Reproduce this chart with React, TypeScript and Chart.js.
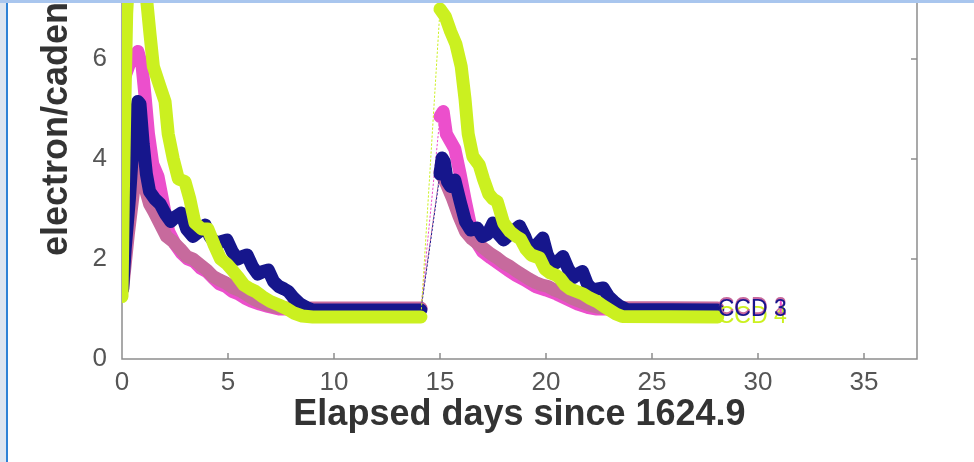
import React, { useEffect, useRef } from "react";
import { Chart, registerables } from "chart.js";

Chart.register(...registerables);

type Pt = [number, number];

// Axis ticks and titles
const xTickValues = [0, 5, 10, 15, 20, 25, 30, 35];
const yTickValues = [0, 2, 4, 6, 8, 10];
const xTitle = "Elapsed days since 1624.9";
const yTitle = "electron/cadence";

// Last day of the first pass; the jump to the second pass is drawn dotted.
const passEnd = 14.1;

// [elapsed day, electron/cadence]
const magentaTrace: Pt[] = [
  [0.03, 1.4], [0, 3.9], [0.02, 5.5], [0.35, 5.9], [0.75, 6.15], [0.95, 5.85],
  [1.1, 5.2], [1.25, 4.5], [1.45, 3.9], [1.7, 3.65], [1.95, 3.1], [2.2, 2.55],
  [2.5, 2.3], [2.8, 2.12], [3.1, 2.0], [3.4, 1.95], [3.7, 1.82], [4.0, 1.75],
  [4.3, 1.62], [4.6, 1.5], [4.9, 1.45], [5.2, 1.35], [5.5, 1.3], [5.8, 1.22],
  [6.1, 1.16], [6.5, 1.1], [6.9, 1.05], [7.4, 1.0], [14.1, 1.0],
  [15.0, 4.85], [15.15, 4.95], [15.3, 4.5], [15.5, 4.35], [15.7, 4.2], [15.95, 3.7],
  [16.2, 3.15], [16.45, 2.65], [16.7, 2.35], [17.0, 2.15], [17.4, 2.02], [17.8, 1.9],
  [18.2, 1.78], [18.6, 1.67], [19.0, 1.58], [19.5, 1.45], [20.0, 1.38], [20.5, 1.3],
  [21.0, 1.2], [21.5, 1.1], [22.0, 1.03], [22.4, 1.0], [28.1, 1.0],
];

const mauveTrace: Pt[] = [
  [0.03, 1.4], [0.3, 2.5], [0.7, 3.9], [0.9, 3.9], [1.1, 3.4], [1.3, 3.1], [1.5, 2.95],
  [1.8, 2.7], [2.1, 2.45], [2.4, 2.35], [2.75, 2.2], [3.05, 2.05], [3.35, 2.0],
  [3.7, 1.88], [4.0, 1.78], [4.3, 1.65], [4.6, 1.58], [4.9, 1.52], [5.25, 1.42],
  [5.6, 1.36], [5.9, 1.28], [6.2, 1.2], [6.5, 1.14], [6.85, 1.08], [7.2, 1.04],
  [7.6, 1.02], [14.1, 1.02],
  [15.0, 3.75], [15.3, 3.5], [15.6, 3.2], [15.9, 2.85], [16.2, 2.55], [16.5, 2.4],
  [16.8, 2.3], [17.1, 2.2], [17.4, 2.1], [17.7, 2.02], [18.0, 1.92], [18.3, 1.85],
  [18.6, 1.76], [18.9, 1.68], [19.2, 1.6], [19.5, 1.53], [19.8, 1.48], [20.1, 1.45],
  [20.4, 1.38], [20.7, 1.33], [21.0, 1.27], [21.3, 1.2], [21.6, 1.15], [21.9, 1.1],
  [22.2, 1.06], [22.5, 1.03], [28.1, 1.02],
];

const navyTrace: Pt[] = [
  [0.03, 1.4], [0.15, 2.2], [0.35, 3.2], [0.55, 4.5], [0.75, 5.15], [0.85, 5.1],
  [1.0, 4.3], [1.15, 3.7], [1.3, 3.35], [1.55, 3.2], [1.8, 3.1], [2.05, 2.9],
  [2.3, 2.75], [2.55, 2.85], [2.8, 2.92], [3.05, 2.6], [3.35, 2.45], [3.65, 2.55],
  [3.92, 2.68], [4.15, 2.45], [4.45, 2.3], [4.7, 2.35], [4.95, 2.38], [5.2, 2.15],
  [5.45, 2.0], [5.7, 2.05], [5.9, 2.08], [6.15, 1.85], [6.4, 1.7], [6.65, 1.75],
  [6.9, 1.78], [7.15, 1.55], [7.4, 1.45], [7.65, 1.4], [7.85, 1.35], [8.1, 1.22],
  [8.4, 1.1], [8.7, 1.03], [9.0, 0.98], [14.1, 0.98],
  [15.0, 3.7], [15.1, 4.02], [15.2, 3.95], [15.35, 3.55], [15.5, 3.45], [15.7, 3.58],
  [15.95, 3.15], [16.2, 2.75], [16.45, 2.58], [16.75, 2.62], [17.0, 2.45], [17.25, 2.5],
  [17.5, 2.72], [17.75, 2.5], [18.0, 2.38], [18.3, 2.5], [18.75, 2.66], [19.0, 2.45],
  [19.25, 2.18], [19.55, 2.28], [19.85, 2.42], [20.05, 2.1], [20.3, 1.88], [20.55, 1.95],
  [20.8, 2.05], [21.05, 1.8], [21.3, 1.63], [21.5, 1.7], [21.72, 1.75], [21.95, 1.5],
  [22.2, 1.38], [22.45, 1.4], [22.7, 1.42], [22.95, 1.25], [23.2, 1.15], [23.5, 1.05],
  [23.8, 0.99], [28.1, 0.98],
];

const limeTrace: Pt[] = [
  [0, 1.25], [0.06, 3.2], [0.14, 5.2], [0.22, 6.9], [0.4, 8.3], [0.7, 8.8], [1.0, 8.0],
  [1.16, 7.2], [1.32, 6.5], [1.48, 5.85], [1.79, 5.45], [2.03, 5.15], [2.18, 4.5],
  [2.42, 4.0], [2.66, 3.6], [2.97, 3.55], [3.2, 3.2], [3.44, 2.72], [3.76, 2.6],
  [4.05, 2.6], [4.35, 2.28], [4.65, 2.0], [4.95, 1.9], [5.2, 1.78], [5.45, 1.65],
  [5.75, 1.48], [6.05, 1.4], [6.3, 1.35], [6.65, 1.24], [7.0, 1.15], [7.4, 1.08],
  [7.8, 1.0], [8.1, 0.92], [8.5, 0.86], [9.0, 0.84], [14.1, 0.84],
  [15.0, 7.0], [15.25, 6.85], [15.5, 6.55], [15.75, 6.3], [16.0, 5.85], [16.18, 5.2],
  [16.33, 4.5], [16.55, 4.05], [16.85, 3.88], [17.05, 3.6], [17.3, 3.3], [17.5, 3.2],
  [17.7, 3.15], [18.0, 2.72], [18.3, 2.55], [18.6, 2.45], [18.8, 2.4], [19.05, 2.2],
  [19.3, 2.08], [19.5, 2.05], [19.7, 2.02], [19.95, 1.8], [20.2, 1.72], [20.45, 1.68],
  [20.65, 1.62], [20.9, 1.48], [21.15, 1.4], [21.45, 1.35], [21.75, 1.3], [22.05, 1.22],
  [22.4, 1.15], [22.7, 1.06], [23.0, 0.98], [23.3, 0.9], [23.6, 0.85], [28.1, 0.84],
];

const series = [
  { name: "CCD 1", color: "#ec4fcc", trace: magentaTrace, order: 3 },
  { name: "CCD 2", color: "#c76a9d", trace: mauveTrace, order: 2 },
  { name: "CCD 3", color: "#16168c", trace: navyTrace, order: 1 },
  { name: "CCD 4", color: "#cbf020", trace: limeTrace, order: 0 },
];

// end-of-trace labels, painted bottom to top
const labelPaintOrder = [3, 0, 1, 2];

const fontFamily = '"Liberation Sans", Arial, sans-serif';

const isPassGap = (ctx: any) =>
  ctx.p0.parsed.x <= passEnd && ctx.p1.parsed.x > passEnd;

const axisFrame = {
  id: "axisFrame",
  beforeDatasetsDraw(chart: any) {
    const { ctx, chartArea, scales } = chart;
    const { left, right, top, bottom } = chartArea;
    ctx.save();
    ctx.strokeStyle = "#8d8d8d";
    ctx.lineWidth = 1.5;
    ctx.beginPath();
    ctx.moveTo(left, top);
    ctx.lineTo(left, bottom);
    ctx.lineTo(right, bottom);
    ctx.lineTo(right, top);
    const tickLen = 6;
    scales.x.ticks.forEach((t: any) => {
      const px = scales.x.getPixelForValue(t.value);
      ctx.moveTo(px, bottom);
      ctx.lineTo(px, bottom - tickLen);
    });
    scales.y.ticks.forEach((t: any) => {
      const py = scales.y.getPixelForValue(t.value);
      ctx.moveTo(left, py);
      ctx.lineTo(left + tickLen, py);
      ctx.moveTo(right, py);
      ctx.lineTo(right - tickLen, py);
    });
    ctx.stroke();
    ctx.restore();
  },
};

const endLabels = {
  id: "endLabels",
  afterDatasetsDraw(chart: any) {
    const { ctx } = chart;
    ctx.save();
    ctx.font = "23px " + fontFamily;
    ctx.textAlign = "left";
    ctx.textBaseline = "middle";
    labelPaintOrder.forEach((i) => {
      const meta = chart.getDatasetMeta(i);
      const last = meta.data[meta.data.length - 1];
      const ds = chart.data.datasets[i];
      ctx.fillStyle = ds.borderColor;
      ctx.fillText(ds.label, last.x, last.y);
    });
    ctx.restore();
  },
};

export default function App() {
  const canvasRef = useRef<HTMLCanvasElement | null>(null);

  useEffect(() => {
    if (!canvasRef.current) return;
    const chart = new Chart(canvasRef.current, {
      type: "line",
      data: {
        datasets: series.map((s) => ({
          label: s.name,
          data: s.trace.map(([x, y]) => ({ x, y })),
          borderColor: s.color,
          backgroundColor: s.color,
          borderWidth: 13,
          borderCapStyle: "round",
          borderJoinStyle: "round",
          pointRadius: 0,
          tension: 0,
          order: s.order,
          segment: {
            borderWidth: (ctx: any) => (isPassGap(ctx) ? 1 : undefined),
            borderDash: (ctx: any) => (isPassGap(ctx) ? [1.5, 2.5] : undefined),
          },
        })),
      },
      options: {
        animation: false,
        responsive: false,
        devicePixelRatio: 1,
        layout: { padding: { top: 59, right: 57, left: 0, bottom: 0 } },
        plugins: {
          legend: { display: false },
          tooltip: { enabled: false },
        },
        scales: {
          x: {
            type: "linear",
            min: 0,
            max: 37.5,
            afterBuildTicks: (s: any) => {
              s.ticks = xTickValues.map((v) => ({ value: v }));
            },
            afterFit: (s: any) => {
              s.height = 103;
            },
            grid: { display: false, drawTicks: false },
            border: { display: false },
            ticks: {
              color: "#555",
              font: { size: 26, family: fontFamily },
              padding: 8,
              maxRotation: 0,
            },
            title: {
              display: true,
              text: xTitle,
              color: "#333",
              font: { size: 36, weight: "bold", family: fontFamily },
              padding: { top: 0, bottom: 25 },
            },
          },
          y: {
            type: "linear",
            min: 0,
            max: 10,
            afterBuildTicks: (s: any) => {
              s.ticks = yTickValues.map((v) => ({ value: v }));
            },
            afterFit: (s: any) => {
              s.width = 122;
            },
            grid: { display: false, drawTicks: false },
            border: { display: false },
            ticks: { color: "#555", font: { size: 26, family: fontFamily }, padding: 15 },
            title: {
              display: true,
              text: yTitle,
              color: "#333",
              font: { size: 36, weight: "bold", family: fontFamily },
              padding: { top: 35, bottom: 0 },
            },
          },
        },
      },
      plugins: [axisFrame, endLabels],
    } as any);
    return () => chart.destroy();
  }, []);

  return (
    <div
      style={{
        position: "fixed",
        left: 0,
        top: 0,
        width: 974,
        height: 462,
        overflow: "hidden",
        background: "#ffffff",
      }}
    >
      <canvas
        ref={canvasRef}
        width={974}
        height={662}
        style={{ position: "absolute", left: 0, top: -200, width: 974, height: 662 }}
      />
      <div style={{ position: "absolute", left: 0, top: 0, width: 6, height: 462, background: "#dde5f0" }} />
      <div style={{ position: "absolute", left: 6, top: 0, width: 2, height: 462, background: "#2f82d6" }} />
      <div style={{ position: "absolute", left: 0, top: 0, width: 974, height: 3, background: "#a9c6ee" }} />
    </div>
  );
}
